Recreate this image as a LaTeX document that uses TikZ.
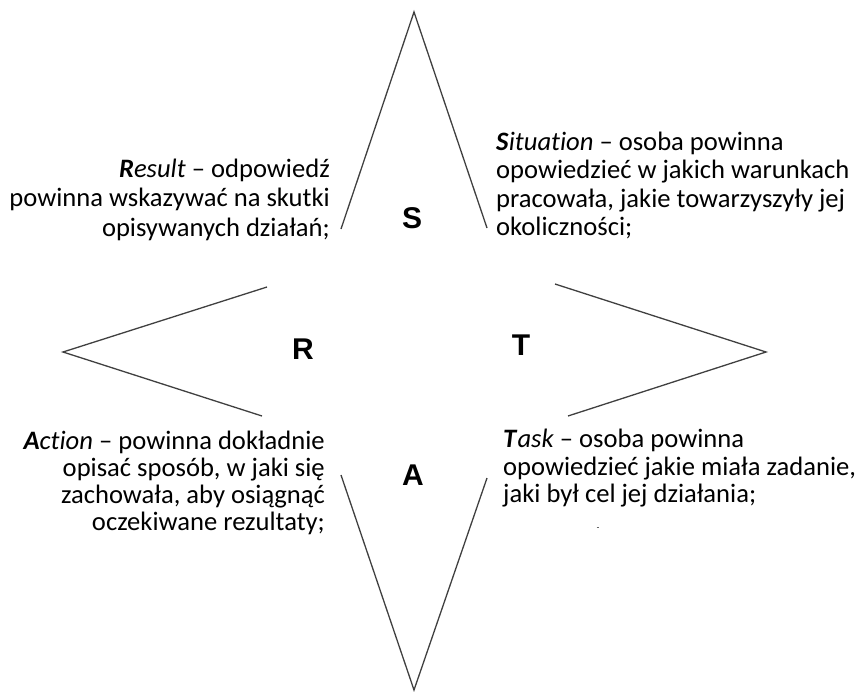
\documentclass[tikz,border=0pt]{standalone}
\usepackage{fontspec}
\setmainfont{Carlito}[Ligatures=NoCommon]
\newfontfamily\letterfont{Liberation Sans}
\begin{document}
\begin{tikzpicture}[x=1pt,y=-1pt,
  spike/.style={draw=black!75,line width=1.3pt,line join=miter},
  txt/.style={inner sep=0pt,font=\fontsize{26.6}{29}\selectfont},
  lineR/.style={txt,anchor=base east},
  lineL/.style={txt,anchor=base west},
  letter/.style={inner sep=0pt,anchor=center,font=\letterfont\bfseries\fontsize{30}{32}\selectfont}]
\useasboundingbox (0,0) rectangle (859,691);

% four open spikes of the star
\coordinate (sTop) at (414,12);
\coordinate (sTopL) at (341,229);
\coordinate (sTopR) at (487,228);
\coordinate (sBot) at (414,690);
\coordinate (sBotL) at (341,475);
\coordinate (sBotR) at (487,478);
\coordinate (sLeft) at (63,352);
\coordinate (sLeftU) at (267,287);
\coordinate (sLeftD) at (262,416);
\coordinate (sRight) at (766,352);
\coordinate (sRightU) at (555,284);
\coordinate (sRightD) at (568,416);
\draw[spike] (sTopL) -- (sTop) -- (sTopR);
\draw[spike] (sBotL) -- (sBot) -- (sBotR);
\draw[spike] (sLeftU) -- (sLeft) -- (sLeftD);
\draw[spike] (sRightU) -- (sRight) -- (sRightD);

% letters
\node[letter] (S) at (412,218) {S};
\node[letter] (R) at (303,349) {R};
\node[letter] (T) at (521,345) {T};
\node[letter] (A) at (413,475) {A};

% Result
\node[lineR] (r1) at (330,177) {\textbf{\textit{R}}\textit{esult} – odpowiedź};
\node[lineR] (r2) at (330,206) {powinna wskazywać na skutki};
\node[lineR] (r3) at (330,236) {opisywanych działań;};

% Situation
\node[lineL] (s1) at (496,150) {\textbf{\textit{S}}\textit{ituation} – osoba powinna};
\node[lineL] (s2) at (496,178) {opowiedzieć w jakich warunkach};
\node[lineL] (s3) at (496,207) {pracowała, jakie towarzyszyły jej};
\node[lineL] (s4) at (496,235) {okoliczności;};

% Action
\node[lineR] (a1) at (325,449) {\textbf{\textit{A}}\textit{ction} – powinna dokładnie};
\node[lineR] (a2) at (325,476) {opisać sposób, w jaki się};
\node[lineR] (a3) at (325,503) {zachowała, aby osiągnąć};
\node[lineR] (a4) at (325,530) {oczekiwane rezultaty;};

% Task
\node[lineL] (t1) at (503,447) {\textbf{\textit{T}}\textit{ask} – osoba powinna};
\node[lineL] (t2) at (503,475) {opowiedzieć jakie miała zadanie,};
\node[lineL] (t3) at (503,502) {jaki był cel jej działania;};

% small stray mark
\draw[black!60,line width=0.8pt] (596.5,527) -- (599,527);
\end{tikzpicture}
\end{document}
